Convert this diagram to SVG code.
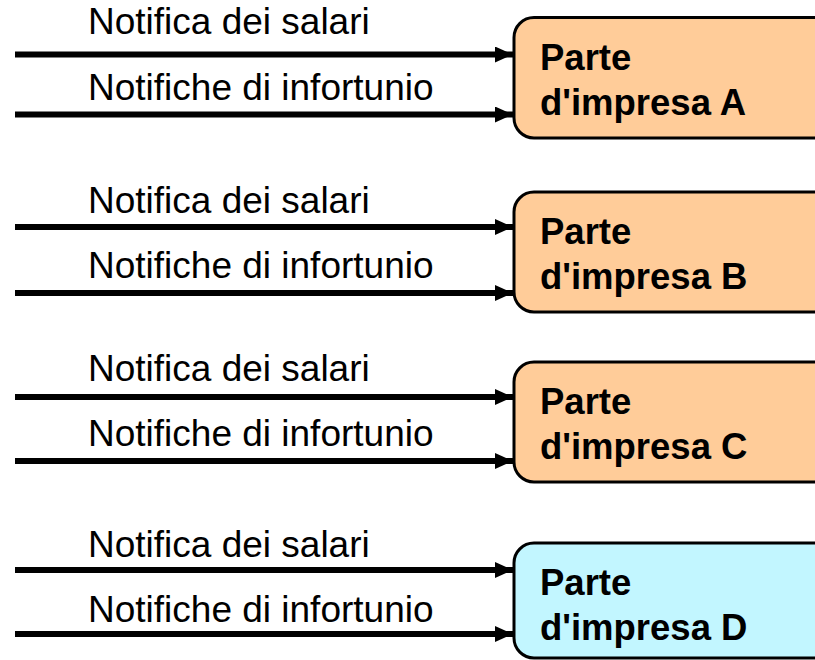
<svg xmlns="http://www.w3.org/2000/svg" width="815" height="660" viewBox="0 0 815 660">
<style>
.lbl{font-family:"Liberation Sans",Arial,sans-serif;font-size:37px;fill:#000}
.bt{font-family:"Liberation Sans",Arial,sans-serif;font-size:36.5px;font-weight:bold;fill:#000}
.box{stroke:#000;stroke-width:3}
.or{fill:#FFCC99}
.cy{fill:#C2F6FF}
.ln{stroke:#000;stroke-width:6;fill:none;marker-end:url(#ah)}
</style>
<defs>
<marker id="ah" markerUnits="userSpaceOnUse" markerWidth="18" markerHeight="16" refX="18" refY="8" orient="auto">
<path d="M0,0 L18,8 L0,16 Z" fill="#000"/>
</marker>
</defs>
<rect width="815" height="660" fill="#fff"/>
<g id="connectors">
<line class="ln" x1="15" y1="54.5" x2="513" y2="54.5"/>
<line class="ln" x1="15" y1="114.5" x2="513" y2="114.5"/>
<line class="ln" x1="15" y1="227" x2="513" y2="227"/>
<line class="ln" x1="15" y1="293" x2="513" y2="293"/>
<line class="ln" x1="15" y1="397" x2="513" y2="397"/>
<line class="ln" x1="15" y1="461" x2="513" y2="461"/>
<line class="ln" x1="15" y1="570" x2="513" y2="570"/>
<line class="ln" x1="15" y1="634" x2="513" y2="634"/>
</g>
<g id="labels">
<text class="lbl" x="88" y="34">Notifica dei salari</text>
<text class="lbl" x="88" y="100">Notifiche di infortunio</text>
<text class="lbl" x="88" y="213">Notifica dei salari</text>
<text class="lbl" x="88" y="278">Notifiche di infortunio</text>
<text class="lbl" x="88" y="381">Notifica dei salari</text>
<text class="lbl" x="88" y="446">Notifiche di infortunio</text>
<text class="lbl" x="88" y="557">Notifica dei salari</text>
<text class="lbl" x="88" y="622">Notifiche di infortunio</text>
</g>
<g id="nodeA">
<rect class="box or" x="514" y="17.5" width="330" height="120.5" rx="20"/>
<text class="bt" x="540" y="70">Parte</text>
<text class="bt" x="540" y="115">d'impresa A</text>
</g>
<g id="nodeB">
<rect class="box or" x="514" y="192" width="330" height="120" rx="20"/>
<text class="bt" x="540" y="244">Parte</text>
<text class="bt" x="540" y="289">d'impresa B</text>
</g>
<g id="nodeC">
<rect class="box or" x="514" y="362" width="330" height="120" rx="20"/>
<text class="bt" x="540" y="414">Parte</text>
<text class="bt" x="540" y="459">d'impresa C</text>
</g>
<g id="nodeD">
<rect class="box cy" x="514" y="543" width="330" height="115" rx="20"/>
<text class="bt" x="540" y="595">Parte</text>
<text class="bt" x="540" y="640">d'impresa D</text>
</g>
</svg>
